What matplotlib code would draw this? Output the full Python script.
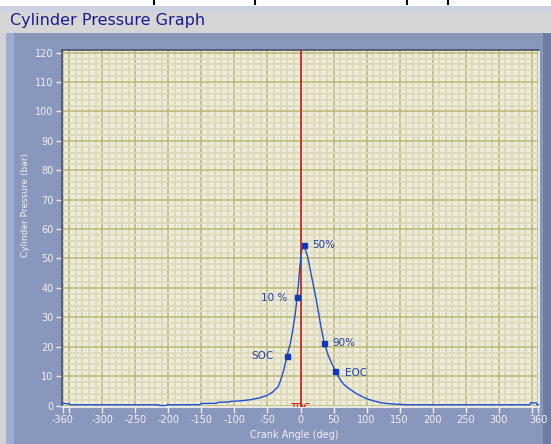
import numpy as np
import matplotlib
matplotlib.use('Agg')
import matplotlib.pyplot as plt
from matplotlib.patches import Rectangle
from matplotlib.lines import Line2D
from matplotlib.ticker import FixedLocator, MultipleLocator

# Kurvdata (avlast fran bilden)
angle = [-360, -358, -355, -350, -348, -215, -213, -204, -202, -152, -150,
         -127, -125, -108, -106, -90, -75, -62, -51, -42, -34, -31, -26,
         -20.3, -15, -11, -8, -5.2, -3, -1, 1, 3, 5.4, 8, 11, 14, 18, 24,
         30, 35.7, 42, 48, 52.9, 58, 65, 75, 85, 100, 112, 123, 135, 150,
         162, 347, 348, 357, 358, 360]
pressure = [0.8, 0.8, 0.6, 0.6, 0.25, 0.25, 0.0, 0.0, 0.25, 0.3, 0.7,
            0.75, 1.1, 1.2, 1.4, 1.6, 2.0, 2.6, 3.4, 4.6, 6.4, 8.0, 11.5,
            17.0, 21.5, 26.7, 31.0, 36.8, 41.5, 47.0, 51.5, 54.0, 54.7, 52.5,
            50.5, 47.0, 42.5, 35.8, 28.0, 21.4, 17.0, 14.0, 11.9, 9.5, 7.3,
            5.5, 4.0, 2.3, 1.5, 0.9, 0.6, 0.4, 0.25, 0.25, 0.9, 0.9, 0.25,
            0.25]

marker_names = ['SOC', '10 %', '50%', '90%', 'EOC']
marker_x = [-20.3, -5.2, 5.4, 35.7, 52.9]
marker_y = [17.0, 36.8, 54.7, 21.4, 11.9]

xtick_pos = [-360, -350, -300, -250, -200, -150, -100, -50, 0, 50, 100,
             150, 200, 250, 300, 350, 360]
xtick_lbl = ['-360', '', '-300', '-250', '-200', '-150', '-100', '-50', '0',
             '50', '100', '150', '200', '250', '300', '', '360']

W, H = 551, 444
fig = plt.figure(figsize=(W / 100, H / 100), dpi=100, facecolor='white')


def px_rect(x, y, w, h, color):
    fig.add_artist(Rectangle((x / W, 1 - (y + h) / H), w / W, h / H,
                             transform=fig.transFigure, color=color,
                             lw=0, zorder=0))


# Ramverk runt grafen
px_rect(0, 6, W, 6, '#cbd3e3')
px_rect(0, 12, W, 21, '#d6d6d6')
px_rect(0, 33, W, H - 33, '#8a97bd')
px_rect(0, 33, 6, H - 33, '#d2d2d2')
px_rect(6, 33, 8, H - 33, '#9eacd3')
px_rect(543, 33, 8, H - 33, '#6f7c9f')
for mx in [154, 255, 407, 448]:
    fig.add_artist(Line2D([mx / W, mx / W], [1, 1 - 4 / H],
                          transform=fig.transFigure, color='black', lw=1.5))

fig.text(10 / W, 1 - 21 / H, 'Cylinder Pressure Graph', color='#1a1a90',
         fontsize=11.5, va='center', ha='left')

ax = fig.add_axes([62 / W, 1 - 407 / H, 477 / W, 357 / H])
ax.set_facecolor('#eeebd9')
ax.set_xlim(-361, 361)
ax.set_ylim(-0.5, 120.9)

ax.xaxis.set_major_locator(FixedLocator(xtick_pos))
ax.set_xticklabels(xtick_lbl)
ax.xaxis.set_minor_locator(MultipleLocator(10))
ax.yaxis.set_major_locator(MultipleLocator(10))
ax.yaxis.set_minor_locator(MultipleLocator(2))
ax.tick_params(which='major', colors='#f0f2f8', labelsize=7, length=4,
               width=1, direction='out', pad=2)
ax.tick_params(which='minor', length=0)

ax.grid(which='minor', color='#dcd9bc', linewidth=1.3)
ax.grid(which='major', color='#bdbb7a', linewidth=1.2)
ax.set_axisbelow(True)

for side in ['top', 'left']:
    ax.spines[side].set_color('#4a5068')
for side in ['bottom', 'right']:
    ax.spines[side].set_color('#f4f4f4')
for sp in ax.spines.values():
    sp.set_linewidth(1.2)

ax.axvline(0, color='#cc1010', linewidth=1.1, zorder=3)
ax.text(0, 0.8, 'TDC', color='#ee0000', fontsize=7, ha='center', va='top',
        clip_on=True, zorder=3)

ax.plot(angle, pressure, color='#1f4fd6', linewidth=1.0, zorder=4)
ax.plot(marker_x, marker_y, 's', color='#1038b8', markersize=3.6, zorder=5)

lbl_style = dict(color='#2040a8', fontsize=7.5, va='center', zorder=5)
ax.text(-40.5, 17.0, marker_names[0], ha='right', **lbl_style)
ax.text(-20.5, 36.5, marker_names[1], ha='right', **lbl_style)
ax.text(18.0, 54.5, marker_names[2], ha='left', **lbl_style)
ax.text(48.5, 21.1, marker_names[3], ha='left', **lbl_style)
ax.text(67.0, 11.0, marker_names[4], ha='left', **lbl_style)

fig.text(294 / W, 1 - 435 / H, 'Crank Angle (deg)', color='#f0f2f8',
         fontsize=7, ha='center', va='center')
fig.text(26 / W, 1 - 205 / H, 'Cylinder Pressure (bar)', color='#f0f2f8',
         fontsize=6.5, ha='center', va='center', rotation=90)

plt.savefig('out.png', dpi=100, facecolor=fig.get_facecolor())
